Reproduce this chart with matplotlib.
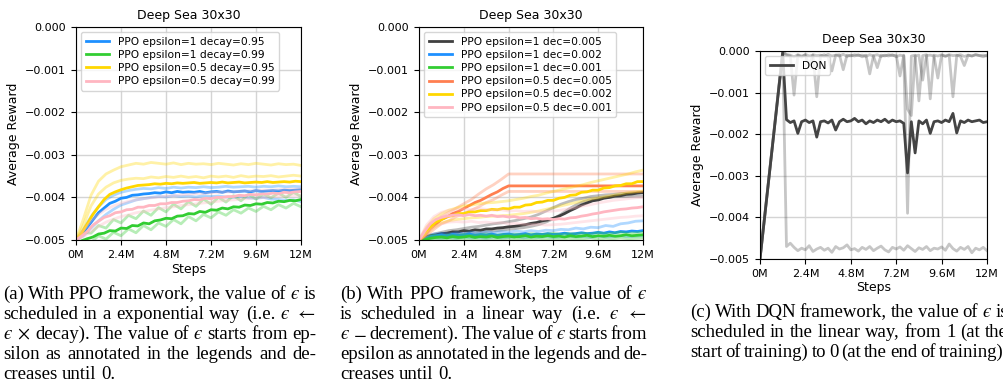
import numpy as np
import matplotlib
matplotlib.use("Agg")
import matplotlib.pyplot as plt
from matplotlib.ticker import FuncFormatter

plt.rcParams['mathtext.fontset'] = 'stix'

W, H = 1004, 384

# steps (millions)
x_mean = np.linspace(0, 12, 41)
x_seed = np.linspace(0, 12, 31)
x_dqn = np.concatenate(([0.0], np.linspace(1.2, 12, 55)))
tick_pos = [0, 2.4, 4.8, 7.2, 9.6, 12]
tick_lab = ['0M', '2.4M', '4.8M', '7.2M', '9.6M', '12M']

# ---- (a) exponential decay, reward in 1e-3
a_labels = ['PPO epsilon=1 decay=0.95', 'PPO epsilon=1 decay=0.99',
            'PPO epsilon=0.5 decay=0.95', 'PPO epsilon=0.5 decay=0.99']
a_colors = ['#1E90FF', '#32CD32', '#FFD700', '#FFB6C1']
a_blue = [-5.00,-4.88,-4.70,-4.53,-4.36,-4.25,-4.14,-4.09,-4.02,-4.00,-3.95,-3.94,-3.92,-3.91,-3.89,-3.90,-3.87,-3.89,-3.86,-3.88,-3.87,-3.88,-3.86,-3.89,-3.87,-3.86,-3.88,-3.85,-3.87,-3.86,-3.85,-3.87,-3.84,-3.86,-3.85,-3.84,-3.85,-3.83,-3.84,-3.83,-3.82]
a_green = [-5.08,-5.02,-4.97,-4.93,-4.86,-4.84,-4.78,-4.79,-4.72,-4.73,-4.66,-4.67,-4.60,-4.62,-4.55,-4.53,-4.49,-4.50,-4.44,-4.43,-4.38,-4.39,-4.33,-4.35,-4.29,-4.30,-4.25,-4.27,-4.22,-4.23,-4.18,-4.19,-4.15,-4.16,-4.12,-4.13,-4.09,-4.10,-4.07,-4.08,-4.05]
a_yellow = [-5.00,-4.84,-4.62,-4.40,-4.22,-4.05,-3.93,-3.87,-3.82,-3.78,-3.75,-3.72,-3.71,-3.70,-3.68,-3.69,-3.67,-3.68,-3.66,-3.67,-3.66,-3.65,-3.67,-3.66,-3.65,-3.66,-3.64,-3.66,-3.65,-3.64,-3.66,-3.65,-3.64,-3.65,-3.63,-3.65,-3.64,-3.63,-3.64,-3.62,-3.63]
a_pink = [-5.00,-4.91,-4.80,-4.65,-4.56,-4.47,-4.43,-4.36,-4.34,-4.29,-4.28,-4.23,-4.23,-4.19,-4.19,-4.15,-4.15,-4.12,-4.12,-4.09,-4.08,-4.05,-4.06,-4.02,-4.03,-4.00,-4.00,-3.98,-3.98,-3.95,-3.96,-3.93,-3.94,-3.92,-3.92,-3.90,-3.91,-3.88,-3.89,-3.87,-3.86]
a_blue_s1 = [-5.00,-4.75,-4.45,-4.22,-4.05,-3.95,-3.88,-3.84,-3.81,-3.79,-3.80,-3.77,-3.79,-3.76,-3.78,-3.76,-3.77,-3.75,-3.77,-3.76,-3.74,-3.76,-3.75,-3.74,-3.76,-3.74,-3.75,-3.73,-3.75,-3.74,-3.75]
a_blue_s2 = [-5.00,-4.90,-4.72,-4.55,-4.40,-4.28,-4.18,-4.12,-4.06,-4.03,-4.00,-3.98,-3.99,-3.96,-3.98,-3.97,-3.99,-3.96,-3.98,-3.97,-3.99,-4.00,-3.98,-4.01,-4.02,-4.00,-4.04,-4.05,-4.07,-4.06,-4.10]
a_green_s1 = [-5.00,-4.82,-4.84,-4.66,-4.72,-4.52,-4.60,-4.42,-4.50,-4.32,-4.42,-4.24,-4.34,-4.16,-4.27,-4.10,-4.21,-4.04,-4.16,-4.00,-4.11,-3.96,-4.08,-3.93,-4.04,-3.92,-4.01,-3.90,-4.00,-3.88,-3.98]
a_green_s2 = [-5.12,-5.00,-5.06,-4.90,-4.98,-4.82,-4.90,-4.74,-4.83,-4.66,-4.76,-4.60,-4.68,-4.52,-4.62,-4.45,-4.55,-4.40,-4.48,-4.34,-4.42,-4.29,-4.37,-4.25,-4.33,-4.21,-4.29,-4.17,-4.25,-4.14,-4.22]
a_yellow_s1 = [-5.00,-4.50,-3.95,-3.62,-3.45,-3.36,-3.28,-3.24,-3.20,-3.22,-3.18,-3.20,-3.22,-3.19,-3.23,-3.20,-3.22,-3.21,-3.23,-3.20,-3.22,-3.24,-3.21,-3.23,-3.20,-3.22,-3.24,-3.21,-3.23,-3.22,-3.25]
a_yellow_s2 = [-5.00,-4.65,-4.20,-3.92,-3.76,-3.66,-3.60,-3.57,-3.55,-3.56,-3.52,-3.54,-3.51,-3.53,-3.50,-3.53,-3.51,-3.54,-3.50,-3.52,-3.50,-3.53,-3.49,-3.52,-3.50,-3.51,-3.49,-3.52,-3.50,-3.48,-3.50]
a_pink_s1 = [-5.00,-4.78,-4.55,-4.40,-4.28,-4.20,-4.14,-4.09,-4.06,-4.03,-4.01,-3.99,-3.97,-3.96,-3.94,-3.93,-3.91,-3.91,-3.89,-3.88,-3.87,-3.87,-3.85,-3.85,-3.84,-3.83,-3.83,-3.82,-3.81,-3.81,-3.80]
a_pink_s2 = [-5.00,-4.92,-4.80,-4.68,-4.58,-4.51,-4.45,-4.41,-4.36,-4.33,-4.30,-4.27,-4.24,-4.22,-4.19,-4.17,-4.15,-4.13,-4.11,-4.09,-4.07,-4.06,-4.04,-4.03,-4.01,-4.00,-3.99,-3.97,-3.97,-3.95,-3.95]

# ---- (b) linear decay
b_labels = ['PPO epsilon=1 dec=0.005', 'PPO epsilon=1 dec=0.002', 'PPO epsilon=1 dec=0.001',
            'PPO epsilon=0.5 dec=0.005', 'PPO epsilon=0.5 dec=0.002', 'PPO epsilon=0.5 dec=0.001']
b_colors = ['#404040', '#1E90FF', '#32CD32', '#FF7F50', '#FFD700', '#FFB6C1']
b_black = [-5.00,-4.95,-4.90,-4.88,-4.85,-4.84,-4.81,-4.81,-4.78,-4.79,-4.76,-4.77,-4.74,-4.74,-4.72,-4.71,-4.69,-4.68,-4.66,-4.64,-4.61,-4.59,-4.55,-4.53,-4.49,-4.44,-4.38,-4.31,-4.25,-4.18,-4.13,-4.08,-4.06,-4.02,-4.00,-3.97,-3.96,-3.93,-3.92,-3.90,-3.89]
b_blue = [-5.00,-4.96,-4.92,-4.90,-4.88,-4.90,-4.87,-4.89,-4.88,-4.86,-4.89,-4.87,-4.88,-4.86,-4.89,-4.87,-4.86,-4.88,-4.87,-4.85,-4.88,-4.86,-4.87,-4.85,-4.87,-4.86,-4.84,-4.86,-4.85,-4.83,-4.85,-4.84,-4.82,-4.84,-4.81,-4.83,-4.80,-4.81,-4.79,-4.80,-4.78]
b_green = [-5.05,-4.99,-4.96,-4.94,-4.93,-4.95,-4.92,-4.94,-4.93,-4.91,-4.94,-4.92,-4.93,-4.91,-4.94,-4.92,-4.91,-4.93,-4.92,-4.90,-4.93,-4.91,-4.92,-4.90,-4.92,-4.91,-4.93,-4.90,-4.92,-4.91,-4.89,-4.92,-4.90,-4.91,-4.89,-4.91,-4.90,-4.88,-4.90,-4.89,-4.88]
b_orange = [-5.00,-4.90,-4.74,-4.63,-4.52,-4.46,-4.38,-4.33,-4.26,-4.19,-4.12,-4.07,-4.00,-3.93,-3.87,-3.79,-3.73,
            -3.73,-3.73,-3.73,-3.73,-3.73,-3.73,-3.73,-3.73,-3.73,-3.73,-3.73,-3.73,-3.73,-3.73,-3.73,-3.73,
            -3.73,-3.73,-3.73,-3.73,-3.73,-3.73,-3.73,-3.73]
b_yellow = [-5.00,-4.85,-4.70,-4.58,-4.52,-4.45,-4.43,-4.38,-4.38,-4.34,-4.34,-4.31,-4.31,-4.28,-4.29,-4.26,-4.27,-4.23,-4.23,-4.18,-4.17,-4.12,-4.11,-4.07,-4.07,-4.02,-4.00,-3.95,-3.94,-3.88,-3.87,-3.83,-3.83,-3.78,-3.77,-3.73,-3.72,-3.68,-3.68,-3.63,-3.63]
b_pink = [-5.00,-4.80,-4.62,-4.52,-4.47,-4.44,-4.42,-4.41,-4.43,-4.40,-4.43,-4.42,-4.44,-4.42,-4.45,-4.44,-4.46,-4.45,-4.48,-4.47,-4.50,-4.49,-4.51,-4.50,-4.52,-4.50,-4.51,-4.48,-4.47,-4.44,-4.42,-4.39,-4.37,-4.34,-4.32,-4.30,-4.28,-4.27,-4.25,-4.24,-4.22]
b_black_s1 = [-5.00,-4.92,-4.86,-4.82,-4.78,-4.76,-4.73,-4.70,-4.68,-4.65,-4.62,-4.60,-4.57,-4.54,-4.50,-4.46,-4.40,-4.32,-4.24,-4.16,-4.10,-4.05,-4.02,-3.98,-3.96,-3.94,-3.93,-3.91,-3.90,-3.89,-3.88]
b_black_s2 = [-5.00,-4.96,-4.93,-4.90,-4.88,-4.86,-4.85,-4.83,-4.82,-4.80,-4.79,-4.77,-4.75,-4.73,-4.71,-4.68,-4.64,-4.58,-4.50,-4.40,-4.28,-4.18,-4.10,-4.05,-4.02,-4.00,-3.99,-3.98,-3.98,-3.97,-3.97]
b_blue_s1 = [-5.00,-4.90,-4.86,-4.84,-4.86,-4.83,-4.85,-4.82,-4.84,-4.81,-4.83,-4.80,-4.82,-4.79,-4.81,-4.78,-4.80,-4.77,-4.78,-4.75,-4.76,-4.72,-4.74,-4.70,-4.71,-4.66,-4.68,-4.62,-4.60,-4.56,-4.55]
b_blue_s2 = [-5.00,-4.97,-4.95,-4.96,-4.94,-4.96,-4.93,-4.95,-4.94,-4.96,-4.93,-4.95,-4.94,-4.92,-4.95,-4.93,-4.94,-4.92,-4.94,-4.93,-4.91,-4.93,-4.92,-4.94,-4.91,-4.93,-4.92,-4.90,-4.92,-4.91,-4.90]
b_green_s1 = [-5.00,-4.92,-4.89,-4.91,-4.88,-4.90,-4.87,-4.89,-4.88,-4.86,-4.89,-4.87,-4.88,-4.86,-4.88,-4.85,-4.87,-4.86,-4.84,-4.87,-4.85,-4.86,-4.84,-4.86,-4.83,-4.85,-4.84,-4.82,-4.84,-4.83,-4.82]
b_green_s2 = [-5.10,-5.02,-4.99,-4.98,-5.00,-4.97,-4.99,-4.98,-5.00,-4.97,-4.99,-4.98,-4.96,-4.99,-4.97,-4.98,-4.96,-4.98,-4.97,-4.99,-4.96,-4.98,-4.97,-4.95,-4.98,-4.96,-4.97,-4.95,-4.97,-4.96,-4.95]
b_orange_s1 = [-5.00,-4.80,-4.60,-4.45,-4.35,-4.25,-4.15,-4.05,-3.92,-3.80,-3.70,-3.58,-3.45,
               -3.45,-3.45,-3.45,-3.45,-3.45,-3.45,-3.45,-3.45,-3.45,-3.45,-3.45,-3.45,-3.45,-3.45,-3.45,-3.45,-3.45,-3.45]
b_orange_s2 = [-5.00,-4.90,-4.75,-4.62,-4.55,-4.45,-4.38,-4.30,-4.22,-4.12,-4.05,-3.95,-3.86,
               -3.86,-3.86,-3.86,-3.86,-3.86,-3.86,-3.86,-3.86,-3.86,-3.86,-3.86,-3.86,-3.86,-3.86,-3.86,-3.86,-3.86,-3.86]
b_yellow_s1 = [-5.00,-4.70,-4.50,-4.38,-4.30,-4.25,-4.20,-4.18,-4.15,-4.13,-4.12,-4.10,-4.08,-4.05,-4.02,-3.98,-3.95,-3.90,-3.86,-3.82,-3.78,-3.74,-3.70,-3.65,-3.61,-3.57,-3.53,-3.49,-3.45,-3.40,-3.36]
b_yellow_s2 = [-5.00,-4.85,-4.70,-4.60,-4.55,-4.52,-4.50,-4.48,-4.47,-4.45,-4.44,-4.43,-4.42,-4.40,-4.38,-4.35,-4.32,-4.28,-4.24,-4.20,-4.16,-4.12,-4.08,-4.04,-4.01,-3.98,-3.95,-3.92,-3.89,-3.87,-3.85]
b_pink_s1 = [-5.00,-4.65,-4.45,-4.35,-4.30,-4.28,-4.27,-4.29,-4.26,-4.28,-4.30,-4.29,-4.32,-4.31,-4.33,-4.32,-4.34,-4.33,-4.32,-4.30,-4.27,-4.24,-4.20,-4.17,-4.13,-4.10,-4.07,-4.05,-4.03,-4.01,-4.00]
b_pink_s2 = [-5.00,-4.85,-4.70,-4.62,-4.58,-4.57,-4.58,-4.56,-4.59,-4.58,-4.60,-4.59,-4.62,-4.61,-4.63,-4.64,-4.63,-4.65,-4.64,-4.63,-4.61,-4.59,-4.57,-4.55,-4.53,-4.51,-4.49,-4.47,-4.46,-4.44,-4.43]

# ---- (c) DQN
c_mean = [-5.00, -0.05,
          -1.65,-1.72,-1.68,-1.98,-1.70,-1.66,-1.72,-1.68,-2.07,-1.70,
          -1.68,-1.73,-1.66,-1.90,-1.70,-1.64,-1.70,-1.68,-1.62,-1.70,
          -1.66,-1.75,-1.68,-1.72,-1.66,-1.70,-1.64,-1.72,-1.66,-1.70,
          -1.68,-1.74,-2.93,-1.70,-2.45,-1.68,-1.75,-1.66,-1.98,-1.70,
          -1.68,-1.72,-1.66,-1.70,-1.50,-1.97,-1.68,-1.72,-1.66,-1.70,
          -1.68,-1.66,-1.72,-1.70]
c_s1 = [-5.00, -0.02,
        -0.10,-0.12,-1.06,-0.10,-0.15,-0.08,-0.12,-0.10,-1.10,-0.12,
        -0.09,-0.14,-0.48,-0.10,-0.12,-0.08,-0.13,-0.10,-0.12,-0.09,
        -0.14,-0.10,-0.55,-0.11,-0.09,-0.13,-0.10,-0.12,-0.09,-0.14,
        -0.10,-0.12,-3.90,-0.12,-0.10,-1.20,-0.11,-0.09,-1.15,-0.10,
        -0.12,-0.09,-0.13,-0.10,-1.10,-0.11,-0.09,-0.13,-0.10,-0.12,
        -0.09,-0.11,-0.14,-0.10]
c_s2 = [-5.00, -0.02,
        -0.08,-0.10,-0.14,-0.09,-0.12,-0.10,-0.35,-0.09,-0.11,-0.10,
        -0.13,-0.08,-0.12,-0.10,-0.09,-0.45,-0.10,-0.12,-0.09,-0.11,
        -0.10,-0.13,-0.09,-0.12,-0.40,-0.10,-0.12,-0.09,-0.11,-0.10,
        -0.60,-0.10,-1.40,-1.55,-0.12,-0.10,-0.70,-0.11,-0.10,-0.12,
        -0.65,-0.10,-0.12,-0.09,-0.11,-0.10,-0.13,-0.35,-0.10,-0.12,
        -0.09,-0.11,-0.10,-0.12]
c_s3 = [-5.00, -0.02,
        -4.70,-4.62,-4.72,-4.80,-4.74,-4.78,-4.68,-4.82,-4.76,-4.72,
        -4.79,-4.74,-4.84,-4.70,-4.76,-4.73,-4.66,-4.78,-4.75,-4.81,
        -4.72,-4.77,-4.70,-4.80,-4.74,-4.69,-4.78,-4.83,-4.72,-4.76,
        -4.71,-4.79,-4.68,-4.75,-4.82,-4.73,-4.77,-4.70,-4.80,-4.74,
        -4.76,-4.71,-4.79,-4.64,-4.75,-4.81,-4.72,-4.77,-4.70,-4.85,
        -4.74,-4.78,-4.72,-4.80]

EPS = '$\u03f5$'
cap_a = ["(a) With PPO framework, the value of " + EPS + " is",
         "scheduled in a exponential way (i.e. " + EPS + " $\\leftarrow$",
         EPS + " $\\times$ decay). The value of " + EPS + " starts from ep-",
         "silon as annotated in the legends and de-",
         "creases until 0."]
cap_b = ["(b) With PPO framework, the value of " + EPS,
         "is scheduled in a linear way (i.e. " + EPS + " $\\leftarrow$",
         EPS + " $-$ decrement). The value of " + EPS + " starts from",
         "epsilon as annotated in the legends and de-",
         "creases until 0."]
cap_c = ["(c) With DQN framework, the value of " + EPS + " is",
         "scheduled in the linear way, from 1 (at the",
         "start of training) to 0 (at the end of training)."]


def fmt_y(v, pos):
    if abs(v) < 1e-9:
        return '0.000'
    return f"{v:.3f}".replace('-', '\u2212')


def style(ax):
    ax.set_xlim(0, 12)
    ax.set_ylim(-0.005, 0)
    ax.set_xticks(tick_pos)
    ax.set_xticklabels(tick_lab)
    ax.set_yticks([-0.005, -0.004, -0.003, -0.002, -0.001, 0.0])
    ax.yaxis.set_major_formatter(FuncFormatter(fmt_y))
    ax.tick_params(labelsize=8, length=3.5)
    ax.grid(True, color='#d4d4d4', lw=1)
    ax.set_axisbelow(True)
    ax.set_title('Deep Sea 30x30', fontsize=9)
    ax.set_xlabel('Steps', fontsize=9, labelpad=2)
    ax.set_ylabel('Average Reward', fontsize=9)


fig = plt.figure(figsize=(W / 100, H / 100), dpi=100)

def add_ax(l, t, r, b):
    return fig.add_axes([l / W, 1 - b / H, (r - l) / W, (b - t) / H])

m = 1e-3
# (a)
ax = add_ax(76, 27, 301, 240)
a_means = [a_blue, a_green, a_yellow, a_pink]
a_seeds = [(a_blue_s1, a_blue_s2), (a_green_s1, a_green_s2),
           (a_yellow_s1, a_yellow_s2), (a_pink_s1, a_pink_s2)]
for mean, seeds, col, lab in zip(a_means, a_seeds, a_colors, a_labels):
    for s in seeds:
        ax.plot(x_seed, np.array(s) * m, color=col, lw=2, alpha=0.35)
    ax.plot(x_mean, np.array(mean) * m, color=col, lw=2, label=lab)
style(ax)
ax.legend(loc='upper left', fontsize=7.7, handlelength=2.2, borderpad=0.4, labelspacing=0.3)

# (b)
ax = add_ax(419, 27, 643, 240)
b_means = [b_black, b_blue, b_green, b_orange, b_yellow, b_pink]
b_seeds = [(b_black_s1, b_black_s2), (b_blue_s1, b_blue_s2), (b_green_s1, b_green_s2),
           (b_orange_s1, b_orange_s2), (b_yellow_s1, b_yellow_s2), (b_pink_s1, b_pink_s2)]
for mean, seeds, col, lab in zip(b_means, b_seeds, b_colors, b_labels):
    for s in seeds:
        ax.plot(x_seed, np.array(s) * m, color=col, lw=2, alpha=0.35)
    ax.plot(x_mean, np.array(mean) * m, color=col, lw=2, label=lab)
style(ax)
ax.legend(loc='upper left', fontsize=7.7, handlelength=2.2, borderpad=0.4, labelspacing=0.3)

# (c)
ax = add_ax(760, 51, 987, 259)
for s in (c_s1, c_s2, c_s3):
    ax.plot(x_dqn, np.array(s) * m, color='#444444', lw=2, alpha=0.3)
ax.plot(x_dqn, np.array(c_mean) * m, color='#444444', lw=2, label='DQN')
style(ax)
ax.legend(loc='upper left', fontsize=7.7, handlelength=2.2, borderpad=0.4)

# captions, justified line by line
FS = 13.5
renderer = fig.canvas.get_renderer()
space = 0.25 * FS * 100 / 72


def caption(lines, x0, x1, base0, justify_last=False):
    for i, line in enumerate(lines):
        y = 1 - (base0 + 20 * i) / H
        words = line.split(' ')
        texts = [fig.text(0, y, w, fontsize=FS, family='Liberation Serif', va='baseline')
                 for w in words]
        widths = [t.get_window_extent(renderer).width for t in texts]
        last = i == len(lines) - 1 and not justify_last
        gap = space if last else max((x1 - x0 - sum(widths)) / (len(words) - 1), 2.0)
        x = x0
        for t, wd in zip(texts, widths):
            t.set_x(x / W)
            x += wd + gap


caption(cap_a, 3, 316, 299)
caption(cap_b, 340, 647, 299)
caption(cap_c, 690, 1008, 317, justify_last=True)

fig.savefig('out.png', dpi=100)
